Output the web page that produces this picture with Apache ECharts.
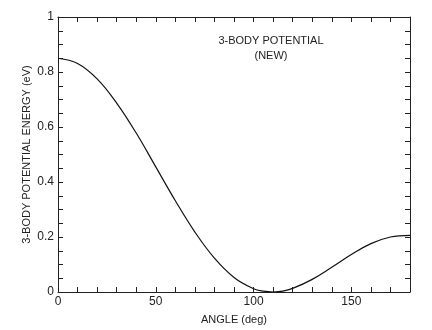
<!DOCTYPE html>
<html><head><meta charset="utf-8">
<script src="https://cdn.jsdelivr.net/npm/echarts@6/dist/echarts.min.js"></script>
<style>html,body{margin:0;padding:0;background:#fff}#c{width:432px;height:330px}</style>
</head><body><div id="c"></div>
<script>
var angles = [0,10,20,30,40,50,60,70,80,90,100,105,110,115,120,130,140,150,160,170,180];
var energy = [0.850,0.831,0.775,0.687,0.578,0.455,0.332,0.218,0.123,0.053,0.012,0.003,0.000,0.003,0.013,0.046,0.090,0.136,0.176,0.200,0.206];
var titleLines = ['3-BODY POTENTIAL','(NEW)'];
var xName = 'ANGLE (deg)';
var yName = '3-BODY POTENTIAL ENERGY (eV)';

var chart = echarts.init(document.getElementById('c'));
var pts = angles.map(function(a,i){return [a, energy[i]];});
var font = 'Liberation Sans, Arial, sans-serif';
var col = '#222';
var axLine = {show:true, onZero:false, lineStyle:{color:col, width:1}};
var tick = {show:true, inside:true, length:5, lineStyle:{color:col, width:1}};
function xl(v){return v%50===0 ? String(v) : '';}
function yl(v){var k=v*5; return Math.abs(k-Math.round(k))<1e-6 ? String(+v.toFixed(1)) : '';}
chart.setOption({
  animation:false,
  backgroundColor:'#fff',
  grid:{left:58,right:22,top:17,bottom:36},
  title:{text:titleLines.join('\n'), left:266, top:28, textAlign:'center',
    textStyle:{fontFamily:font, fontSize:11, fontWeight:'normal', color:col, lineHeight:15}},
  xAxis:[
    {type:'value',min:0,max:180,interval:10,position:'bottom',
     axisLine:axLine,axisTick:tick,splitLine:{show:false},
     axisLabel:{formatter:xl,color:col,fontFamily:font,fontSize:12,margin:4,showMaxLabel:false},
     name:xName,nameLocation:'middle',nameGap:22,nameMoveOverlap:false,
     nameTextStyle:{color:col,fontFamily:font,fontSize:11}},
    {type:'value',min:0,max:180,interval:10,position:'top',
     axisLine:axLine,axisTick:tick,splitLine:{show:false},axisLabel:{show:false}}
  ],
  yAxis:[
    {type:'value',min:0,max:1,interval:0.05,position:'left',
     axisLine:axLine,axisTick:tick,splitLine:{show:false},
     axisLabel:{formatter:yl,color:col,fontFamily:font,fontSize:12,margin:4},
     name:yName,nameLocation:'middle',nameGap:26,nameRotate:90,nameMoveOverlap:false,
     nameTextStyle:{color:col,fontFamily:font,fontSize:11}},
    {type:'value',min:0,max:1,interval:0.05,position:'right',
     axisLine:axLine,axisTick:tick,splitLine:{show:false},axisLabel:{show:false}}
  ],
  series:[{type:'line',data:pts,smooth:0.4,showSymbol:false,
    lineStyle:{color:'#111',width:1.2}}]
});
</script></body></html>
